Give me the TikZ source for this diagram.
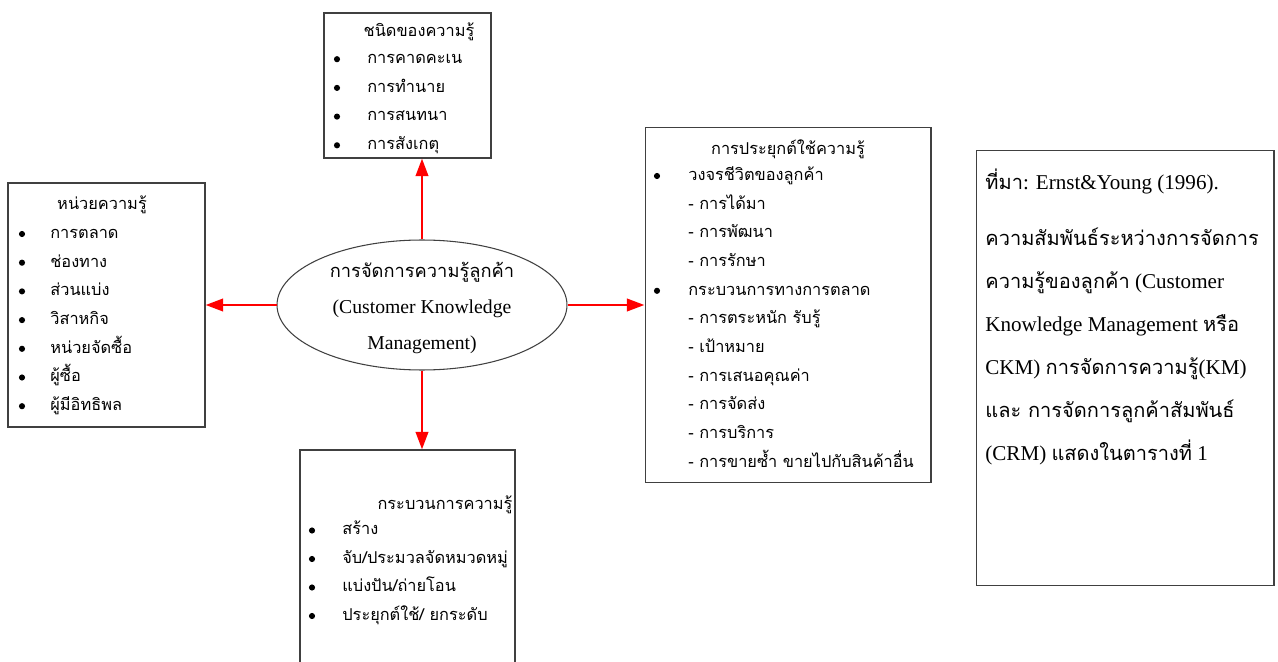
\documentclass[tikz,border=0pt]{standalone}
\usepackage{fontspec}
\setmainfont{Liberation Serif}
\newfontfamily\thai[Script=Thai]{Loma}
\usetikzlibrary{arrows.meta,shapes.geometric}
\newcommand{\thnote}[1]{{\thai\fontsize{11.4}{14}\selectfont #1}}

\begin{document}
\begin{tikzpicture}[x=0.02cm,y=0.02cm, >={Triangle[length=10pt,width=7pt]}, box/.style={draw=black!75,line width=0.6pt,inner sep=0pt}, hd/.style={font=\thai\fontsize{9.3}{12}\selectfont,inner sep=0pt,text height=8pt,text depth=3pt}, item/.style={hd,anchor=west}, dot/.style={circle,fill,inner sep=0pt,minimum size=3.5pt}, arr/.style={->,red,line width=1.6pt}, note/.style={anchor=west,inner sep=0pt,font=\fontsize{12}{14}\selectfont,text height=9pt,text depth=3pt}]
\useasboundingbox (0,0) rectangle (1278,-662);
\node[box,minimum width=3.34cm,minimum height=2.9cm] (kinds) at (407.5,-85.5) {};
\node[box,minimum width=3.94cm,minimum height=4.88cm] (units) at (106.5,-305) {};
\node[box,minimum width=5.72cm,minimum height=7.12cm] (apply) at (788,-305) {};
\node[box,minimum width=4.3cm,minimum height=4.28cm] (process) at (407.5,-557) {};
\node[box,minimum width=5.96cm,minimum height=8.72cm] (source) at (1125,-368) {};
\node[box,ellipse,minimum width=5.8cm,minimum height=2.6cm] (ckm) at (422,-305) {};
\node[align=center,inner sep=0pt,font=\fontsize{11.2}{20.5}\selectfont] (ckm-t) at (422,-308) {{\thai\fontsize{10.4}{20.5}\selectfont การจัดการความรู้ลูกค้า}\\(Customer Knowledge\\Management)};
\draw[arr] (ckm.north) -- (ckm.north |- kinds.south);
\draw[arr] (ckm.west) -- (units.east);
\draw[arr] (ckm.east) -- (apply.west);
\draw[arr] (ckm.south) -- (ckm.south |- process.north);
\node[hd] (kinds-t) at (419,-32) {ชนิดของความรู้};
\foreach \t [count=\i] in {การคาดคะเน,การทำนาย,การสนทนา,การสังเกตุ}{
  \node[dot] (kinds-b\i) at (337,{-30.5-28.7*\i}) {};
  \node[item] (kinds-\i) at (367,{-30.5-28.7*\i}) {\t};}
\node[hd] (units-t) at (102,-205) {หน่วยความรู้};
\foreach \t [count=\i] in {การตลาด,ช่องทาง,ส่วนแบ่ง,วิสาหกิจ,หน่วยจัดซื้อ,ผู้ซื้อ,ผู้มีอิทธิพล}{
  \node[dot] (units-b\i) at (22,{-205.3-28.7*\i}) {};
  \node[item] (units-\i) at (50,{-205.3-28.7*\i}) {\t};}
\node[hd] (apply-t) at (788,-150) {การประยุกต์ใช้ความรู้};
\foreach \t [count=\i] in {วงจรชีวิตของลูกค้า,- การได้มา,- การพัฒนา,- การรักษา,กระบวนการทางการตลาด,- การตระหนัก รับรู้,- เป้าหมาย,- การเสนอคุณค่า,- การจัดส่ง,- การบริการ,- การขายซ้ำ ขายไปกับสินค้าอื่น}
  \node[item] (apply-\i) at (688,{-147.3-28.7*\i}) {\t};
\node[dot] (apply-b1) at (657,{-147.3-28.7*1}) {};
\node[dot] (apply-b2) at (657,{-147.3-28.7*5}) {};
\node[hd] (process-t) at (445,-505) {กระบวนการความรู้};
\foreach \t [count=\i] in {สร้าง,จับ/ประมวลจัดหมวดหมู่,แบ่งปัน/ถ่ายโอน,ประยุกต์ใช้/ ยกระดับ}{
  \node[dot] (process-b\i) at (312,{-502-28.5*\i}) {};
  \node[item] (process-\i) at (342,{-502-28.5*\i}) {\t};}
\node[note] (source-t) at (985,-184) {\thnote{ที่มา}: Ernst\&Young (1996).};
\foreach \t [count=\i] in {{\thnote{ความสัมพันธ์ระหว่างการจัดการ}},{\thnote{ความรู้ของลูกค้า} (Customer},{Knowledge Management \thnote{หรือ}},{CKM) \thnote{การจัดการความรู้}(KM)},{\thnote{และ การจัดการลูกค้าสัมพันธ์}},{(CRM) \thnote{แสดงในตารางที่} 1}}
  \node[note] (source-\i) at (985,{-197-43*\i}) {\t};
\end{tikzpicture}
\end{document}
